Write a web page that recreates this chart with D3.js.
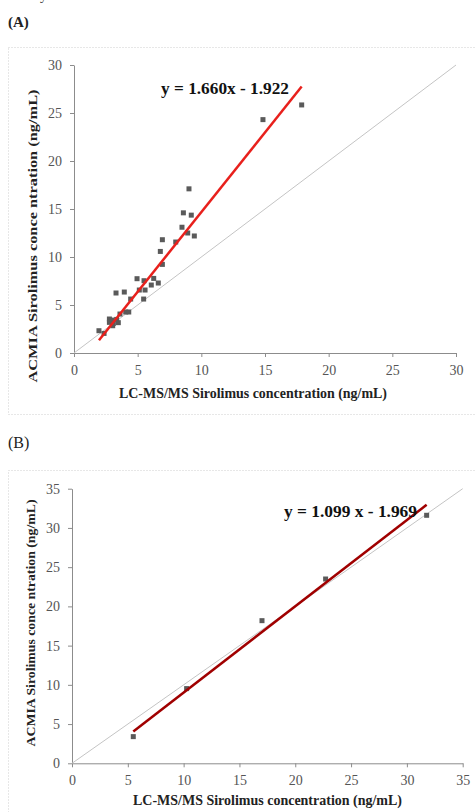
<!DOCTYPE html>
<html>
<head>
<meta charset="utf-8">
<script src="https://cdn.jsdelivr.net/npm/d3@7"></script>
<style>
  html, body { margin: 0; padding: 0; background: #fff; }
  svg text { font-family: "Liberation Serif", "DejaVu Serif", serif; }
</style>
</head>
<body>
<svg id="chart"></svg>
<script>
// panel A : LC-MS/MS vs ACMIA, patient samples
const aLcms  = [1.96, 2.36, 2.78, 2.78, 2.99, 3.04, 3.09, 3.35, 3.30, 3.48, 3.61, 3.95, 4.06, 4.30, 4.45, 4.95, 5.13, 5.47, 5.50, 5.58, 6.07, 6.26, 6.62, 6.78, 6.94, 6.94, 7.99, 8.48, 8.59, 8.93, 9.03, 9.21, 9.45, 14.84, 17.88];
const aAcmia = [2.32, 2.04, 3.54, 3.19, 3.43, 2.84, 3.08, 3.50, 6.25, 3.16, 4.06, 6.35, 4.27, 4.27, 5.62, 7.74, 6.56, 5.62, 7.53, 6.56, 7.08, 7.77, 7.29, 10.58, 11.80, 9.23, 11.56, 13.10, 14.60, 12.50, 17.10, 14.36, 12.19, 24.31, 25.84];
const aTicks = [0, 5, 10, 15, 20, 25, 30];
const aFit = { slope: 1.660, intercept: -1.922, label: "y = 1.660x - 1.922" };

// panel B : proficiency samples
const bLcms  = [5.49, 10.27, 17.02, 22.72, 31.77];
const bAcmia = [3.40, 9.52, 18.18, 23.49, 31.61];
const bTicks = [0, 5, 10, 15, 20, 25, 30, 35];
const bFit = { slope: 1.099, intercept: -1.969, label: "y = 1.099 x - 1.969" };

const xTitle = "LC-MS/MS  Sirolimus concentration (ng/mL)";
const yTitle = "ACMIA  Sirolimus conce ntration (ng/mL)";

const width = 475, height = 812;
const svg = d3.select("#chart").attr("width", width).attr("height", height);

// stray descender from the text above the figure
svg.append("text").attr("x", 40).attr("y", 0).attr("font-size", 14).attr("fill", "#333").text("y");

// dotted frames round the two panels
svg.append("rect").attr("x", 8.5).attr("y", 47.5).attr("width", 480).attr("height", 367)
    .attr("fill", "none").attr("stroke", "#cfcfcf").attr("stroke-dasharray", "1,2");
svg.append("rect").attr("x", 8.5).attr("y", 470.5).attr("width", 480).attr("height", 360)
    .attr("fill", "none").attr("stroke", "#cfcfcf").attr("stroke-dasharray", "1,2");

svg.append("text").attr("x", 8).attr("y", 27).attr("font-size", 15).attr("font-weight", "bold")
    .attr("fill", "#222").text("(A)");
svg.append("text").attr("x", 8).attr("y", 448).attr("font-size", 16)
    .attr("fill", "#222").text("(B)");

function drawPanel(p) {
    const x = d3.scaleLinear().domain([0, p.max]).range([p.left, p.right]);
    const y = d3.scaleLinear().domain([0, p.max]).range([p.bottom, p.top]);
    const g = svg.append("g");

    // axes
    const xa = g.append("g").attr("transform", `translate(0,${p.bottom})`)
        .call(d3.axisBottom(x).tickValues(p.ticks).tickSize(4).tickPadding(8).tickSizeOuter(0));
    const ya = g.append("g").attr("transform", `translate(${p.left},0)`)
        .call(d3.axisLeft(y).tickValues(p.ticks).tickSize(4).tickPadding(8).tickSizeOuter(0));
    [xa, ya].forEach(a => {
        a.select(".domain").attr("stroke", "#8c8c8c");
        a.selectAll(".tick line").attr("stroke", "#8c8c8c");
        a.selectAll(".tick text").attr("font-family", "Liberation Serif, serif")
            .attr("font-size", 14).attr("fill", "#555");
    });

    // identity line
    g.append("line")
        .attr("x1", x(0)).attr("y1", y(0)).attr("x2", x(p.max)).attr("y2", y(p.max))
        .attr("stroke", "#c4c4c4").attr("stroke-width", 1);

    // points
    const pts = p.xs.map((v, i) => ({ x: v, y: p.ys[i] }));
    g.selectAll("rect.pt").data(pts).enter().append("rect")
        .attr("class", "pt")
        .attr("x", d => x(d.x) - 2.5).attr("y", d => y(d.y) - 2.5)
        .attr("width", 5).attr("height", 5)
        .attr("fill", "#5a5a5a");

    // regression line over the data range
    const [x0, x1] = d3.extent(p.xs);
    g.append("line")
        .attr("x1", x(x0)).attr("y1", y(p.fit.slope * x0 + p.fit.intercept))
        .attr("x2", x(x1)).attr("y2", y(p.fit.slope * x1 + p.fit.intercept))
        .attr("stroke", p.lineColor).attr("stroke-width", 2.5);

    g.append("text").attr("x", p.eq[0]).attr("y", p.eq[1])
        .attr("font-size", 17).attr("font-weight", "bold").attr("fill", "#111")
        .attr("textLength", p.eq[2]).attr("lengthAdjust", "spacingAndGlyphs")
        .text(p.fit.label);

    // axis titles
    g.append("text").attr("x", p.xt[0]).attr("y", p.xt[1])
        .attr("font-size", 14).attr("font-weight", "bold").attr("fill", "#222")
        .attr("textLength", p.xt[2]).attr("lengthAdjust", "spacingAndGlyphs")
        .text(xTitle);
    g.append("text")
        .attr("transform", `translate(${p.yt[0]},${p.yt[1]}) rotate(-90)`)
        .attr("text-anchor", "middle")
        .attr("font-size", 13).attr("font-weight", "bold").attr("fill", "#222")
        .attr("textLength", p.yt[2]).attr("lengthAdjust", "spacingAndGlyphs")
        .text(yTitle);
}

drawPanel({
    xs: aLcms, ys: aAcmia, ticks: aTicks, fit: aFit, max: 30,
    left: 74, right: 456, top: 65, bottom: 353,
    lineColor: "#e8201c",
    eq: [161, 94, 128],
    xt: [119, 398, 268],
    yt: [37, 236, 293]
});

drawPanel({
    xs: bLcms, ys: bAcmia, ticks: bTicks, fit: bFit, max: 35,
    left: 72, right: 462.7, top: 488.7, bottom: 763.3,
    lineColor: "#a00000",
    eq: [284, 517, 133],
    xt: [133, 805, 269],
    yt: [35, 623, 247]
});
</script>
</body>
</html>
